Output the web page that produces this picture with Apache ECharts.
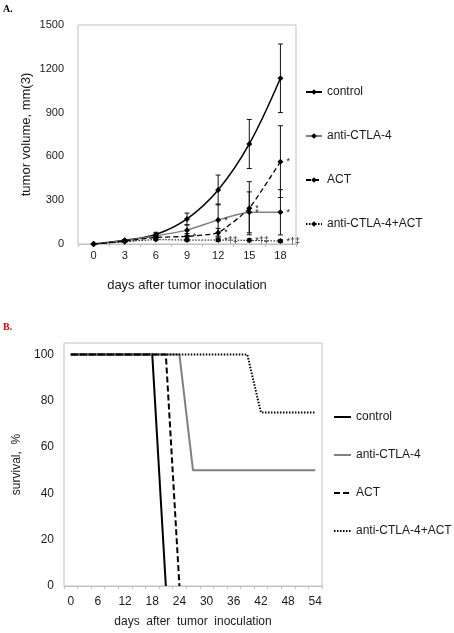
<!DOCTYPE html>
<html><head><meta charset="utf-8">
<script src="https://cdn.jsdelivr.net/npm/echarts@6/dist/echarts.min.js"></script>
<style>
html,body{margin:0;padding:0;background:#fff;}
#a{position:absolute;left:0;top:0;width:454px;height:300px;}
#b{position:absolute;left:0;top:300px;width:454px;height:333px;}
</style></head><body>
<div id="a"></div><div id="b"></div>
<script>
// ---------- Panel A data ----------
const daysA = ['0','3','6','9','12','15','18'];
const yTicksA = [0,300,600,900,1200,1500];
const seriesNames = ['control','anti-CTLA-4','ACT','anti-CTLA-4+ACT'];
const controlVol = [0, 25, 65, 172, 370, 685, 1135];
const antiVol    = [0, 22, 55, 95, 164, 217, 217];
const actVol     = [0, 20, 45, 52, 77, 245, 564];
const comboVol   = [0, 15, 30, 27, 27, 25, 20];
const controlErr = [0, 5, 15, 40, 102, 168, 235];
const antiErr    = [0, 5, 12, 35, 110, 140, 155];
const actErr     = [0, 4, 10, 20, 30, 182, 246];
const comboErr   = [0, 3, 5, 8, 10, 10, 10];
const antiMarks  = ['', '', '', '', '*', '*', '*'];
const actMarks   = ['', '', '', '*', '*', '*', '*'];
const comboMarks = ['', '', '', '', '*\u2020\u2021', '*\u2020\u2021', '*\u2020\u2021'];

// ---------- Panel B data ----------
const daysB = ['0','3','6','9','12','15','18','21','24','27','30','33','36','39','42','45','48','51','54'];
const yTicksB = [0,20,40,60,80,100];
const controlSurv = [100,100,100,100,100,100,100,0,null,null,null,null,null,null,null,null,null,null,null];
const antiSurv    = [100,100,100,100,100,100,100,100,100,50,50,50,50,50,50,50,50,50,50];
const actSurv     = [100,100,100,100,100,100,100,100,0,null,null,null,null,null,null,null,null,null,null];
const comboSurv   = [100,100,100,100,100,100,100,100,100,100,100,100,100,100,75,75,75,75,75];

const FONT = 'Liberation Sans, Arial, sans-serif';
const TXT = '#1a1a1a';

function withMarks(vals, marks) {
  return vals.map((v, i) => marks[i] ? {value: v, label: {show: true, formatter: marks[i], position: 'right', distance: 3, fontSize: 9, color: TXT, fontFamily: FONT}} : v);
}
function errData(vals, errs) {
  return vals.map((v, i) => [i, Math.max(0, v - errs[i]), v + errs[i]]);
}
function errRender(params, api) {
  const x = api.value(0);
  const p1 = api.coord([x, api.value(2)]);
  const p2 = api.coord([x, api.value(1)]);
  const w = 2.5;
  const st = {stroke: '#111', lineWidth: 1};
  return {type: 'group', children: [
    {type: 'line', shape: {x1: p1[0], y1: p1[1], x2: p2[0], y2: p2[1]}, style: st},
    {type: 'line', shape: {x1: p1[0]-w, y1: p1[1], x2: p1[0]+w, y2: p1[1]}, style: st},
    {type: 'line', shape: {x1: p2[0]-w, y1: p2[1], x2: p2[0]+w, y2: p2[1]}, style: st}
  ]};
}

const chartA = echarts.init(document.getElementById('a'), null, {renderer: 'canvas'});
const lineStylesA = [
  {color: '#000', width: 1.5, type: 'solid'},
  {color: '#808080', width: 1.5, type: 'solid'},
  {color: '#000', width: 1.3, type: [5, 3]},
  {color: '#000', width: 1, type: [1.5, 1.5]}
];
const valsA = [withMarks(controlVol, ['','','','','','','']), withMarks(antiVol, antiMarks), withMarks(actVol, actMarks), withMarks(comboVol, comboMarks)];
const errsA = [errData(controlVol, controlErr), errData(antiVol, antiErr), errData(actVol, actErr), errData(comboVol, comboErr)];
const seriesA = [];
seriesNames.forEach((n, k) => {
  seriesA.push({type: 'custom', renderItem: errRender, data: errsA[k], encode: {x: 0, y: [1, 2]}, z: 1, silent: true});
});
seriesNames.forEach((n, k) => {
  seriesA.push({name: n, type: 'line', data: valsA[k], smooth: k === 0 ? 0.35 : 0.15,
    symbol: 'diamond', symbolSize: 6, itemStyle: {color: '#000'}, lineStyle: lineStylesA[k], z: 3});
});

chartA.setOption({
  animation: false,
  title: {text: 'A.', left: 3, top: 4, padding: 0, textStyle: {fontFamily: 'Liberation Serif, serif', fontSize: 10, fontWeight: 'bold', color: '#000'}},
  grid: {left: 78, top: 25, width: 218, height: 219, show: true, borderColor: '#c0c0c0', borderWidth: 1},
  legend: {orient: 'vertical', left: 305, top: 86, padding: 0, itemWidth: 16, itemHeight: 7, itemGap: 32,
    data: seriesNames, textStyle: {fontFamily: FONT, fontSize: 12, color: TXT}, selectedMode: false},
  xAxis: {type: 'category', data: daysA, boundaryGap: true,
    name: 'days after tumor inoculation', nameLocation: 'middle', nameGap: 35,
    nameTextStyle: {fontFamily: FONT, fontSize: 13, color: TXT},
    axisLine: {lineStyle: {color: '#c0c0c0'}},
    axisTick: {show: true, length: 3, lineStyle: {color: '#c0c0c0'}},
    axisLabel: {fontFamily: FONT, fontSize: 11, color: TXT, margin: 6}},
  yAxis: {type: 'value', min: 0, max: 1500, interval: 300,
    name: 'tumor volume, mm(3)', nameLocation: 'middle', nameGap: 45,
    nameTextStyle: {fontFamily: FONT, fontSize: 13, color: TXT},
    axisLine: {show: false}, axisTick: {show: false}, splitLine: {show: false},
    axisLabel: {fontFamily: FONT, fontSize: 11, color: TXT, margin: 14,
      formatter: v => yTicksA.includes(v) ? String(v) : ''}},
  series: seriesA
});

const chartB = echarts.init(document.getElementById('b'), null, {renderer: 'canvas'});
const lineStylesB = [
  {color: '#000', width: 2, type: 'solid'},
  {color: '#808080', width: 2, type: 'solid'},
  {color: '#000', width: 2, type: [6, 3]},
  {color: '#000', width: 2, type: [1.5, 1.5]}
];
const valsB = [controlSurv, antiSurv, actSurv, comboSurv];
chartB.setOption({
  animation: false,
  title: {text: 'B.', left: 3, top: 22, padding: 0, textStyle: {fontFamily: 'Liberation Serif, serif', fontSize: 10, fontWeight: 'bold', color: '#e00000'}},
  grid: {left: 64, top: 43, width: 258, height: 245, show: true, borderColor: '#c0c0c0', borderWidth: 1},
  legend: {orient: 'vertical', left: 333, top: 111, padding: 0, itemWidth: 17, itemHeight: 7, itemGap: 26,
    itemStyle: {opacity: 0},
    data: seriesNames, textStyle: {fontFamily: FONT, fontSize: 12, color: TXT}, selectedMode: false},
  xAxis: {type: 'category', data: daysB, boundaryGap: true,
    name: 'days  after  tumor  inoculation', nameLocation: 'middle', nameGap: 30,
    nameTextStyle: {fontFamily: FONT, fontSize: 12, color: TXT},
    axisLine: {lineStyle: {color: '#c0c0c0'}},
    axisTick: {show: true, interval: 0, length: 3, lineStyle: {color: '#c0c0c0'}},
    axisLabel: {interval: 1, fontFamily: FONT, fontSize: 12, color: TXT, margin: 10}},
  yAxis: {type: 'value', min: 0, max: 105, interval: 20,
    name: 'survival,  %', nameLocation: 'middle', nameGap: 36,
    nameTextStyle: {fontFamily: FONT, fontSize: 12, color: TXT},
    axisLine: {show: false}, axisTick: {show: false}, splitLine: {show: false},
    axisLabel: {fontFamily: FONT, fontSize: 12, color: TXT, margin: 10, showMaxLabel: false,
      formatter: v => yTicksB.includes(v) ? String(v) : ''}},
  series: seriesNames.map((n, k) => ({name: n, type: 'line', data: valsB[k], symbol: 'none',
    lineStyle: lineStylesB[k], itemStyle: {color: lineStylesB[k].color}, connectNulls: false}))
});
</script>
</body></html>
